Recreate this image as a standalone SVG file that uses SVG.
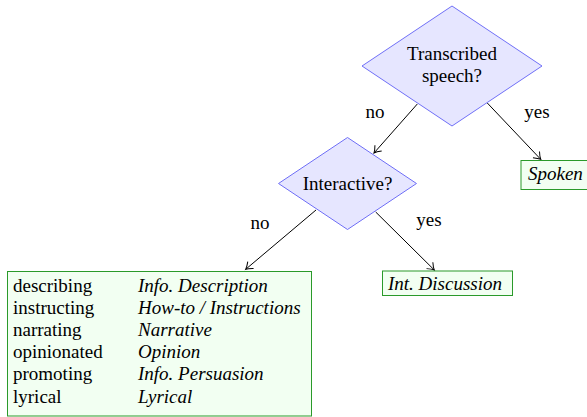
<svg xmlns="http://www.w3.org/2000/svg" width="587" height="417" viewBox="0 0 587 417">
<defs>
<style>
.it { font-style: italic; }
.dec { fill: #e6e6ff; stroke: #6f6ff7; stroke-width: 1; }
.box { fill: #f2fff2; stroke: #2a9a2a; stroke-width: 1; }
.edge { stroke: #000; stroke-width: 1; fill: none; marker-end: url(#arr); }
</style>
<marker id="arr" markerUnits="userSpaceOnUse" markerWidth="12" markerHeight="12" viewBox="-8 -6 10 12" refX="0" refY="0" orient="auto">
<path d="M -6.5 -4.5 Q -2.5 -1 0 0 Q -2.5 1 -6.5 4.5" fill="none" stroke="#000" stroke-width="1"/>
</marker>
</defs>
<rect width="587" height="417" fill="#fff"/>
<g font-family="Liberation Serif, Times New Roman, serif" font-size="19" fill="#000">
<g id="edges">
<line class="edge" x1="417.3" y1="104" x2="374" y2="153"/>
<line class="edge" x1="487.3" y1="103" x2="540.7" y2="159.3"/>
<line class="edge" x1="316" y1="210" x2="245.7" y2="269.3"/>
<line class="edge" x1="375.7" y1="212" x2="434.3" y2="270"/>
<text x="375" y="118" text-anchor="middle">no</text>
<text x="537" y="118" text-anchor="middle">yes</text>
<text x="260" y="229" text-anchor="middle">no</text>
<text x="429" y="226" text-anchor="middle">yes</text>
</g>
<g id="transcribed">
<polygon class="dec" points="452,6 542,66 452,126 362,66"/>
<text x="452" y="60" text-anchor="middle">Transcribed</text>
<text x="452" y="82" text-anchor="middle">speech?</text>
</g>
<g id="interactive">
<polygon class="dec" points="347.5,137.5 416.5,183.5 347.5,229.5 278.5,183.5"/>
<text x="347.5" y="190" text-anchor="middle">Interactive?</text>
</g>
<g id="spoken">
<rect class="box" x="521" y="160.5" width="70" height="29"/>
<text class="it" x="528" y="180">Spoken</text>
</g>
<g id="intdiscussion">
<rect class="box" x="382.5" y="271" width="130" height="24.5"/>
<text class="it" x="388" y="290">Int. Discussion</text>
</g>
<g id="genres">
<rect class="box" x="7.5" y="271.5" width="304" height="144.5"/>
<text x="13" y="292">describing</text>
<text x="13" y="314">instructing</text>
<text x="13" y="336">narrating</text>
<text x="13" y="358">opinionated</text>
<text x="13" y="380">promoting</text>
<text x="13" y="403">lyrical</text>
<text class="it" x="138" y="292">Info. Description</text>
<text class="it" x="138" y="314">How-to / Instructions</text>
<text class="it" x="138" y="336">Narrative</text>
<text class="it" x="138" y="358">Opinion</text>
<text class="it" x="138" y="380">Info. Persuasion</text>
<text class="it" x="138" y="403">Lyrical</text>
</g>
</g>
</svg>
